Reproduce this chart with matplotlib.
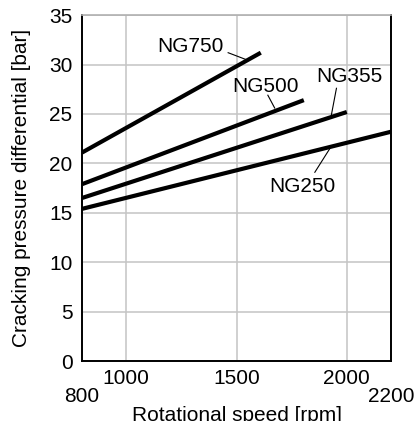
import numpy as np
import matplotlib.pyplot as plt

plt.rcParams['font.family'] = ['Liberation Sans', 'DejaVu Sans']

# speed [rpm] and cracking pressure [bar] at line ends
sizes = ['NG750', 'NG500', 'NG355', 'NG250']
speed_start = [800, 800, 800, 800]
speed_end = [1610, 1805, 2000, 2200]
p_start = [21.1, 17.9, 16.5, 15.4]
p_end = [31.2, 26.4, 25.2, 23.2]

# label text position and leader line (from, to) in data coordinates
label_xy = [(1290, 31.8), (1630, 27.8), (2010, 28.8), (1800, 17.7)]
leader_from = [(1462, 31.2), (1642, 26.9), (1953, 27.6), (1855, 19.1)]
leader_to = [(1544, 30.5), (1673, 25.6), (1930, 24.9), (1923, 21.5)]

xticks = [800, 1000, 1500, 2000, 2200]
yticks = [0, 5, 10, 15, 20, 25, 30, 35]

FS = 15


def main():
    fig = plt.figure(figsize=(4.19, 4.21), dpi=100)
    ax = fig.add_axes([0.196, 0.1425, 0.737, 0.8215])

    for i in range(len(sizes)):
        ax.plot([speed_start[i], speed_end[i]], [p_start[i], p_end[i]],
                color='black', lw=3, solid_capstyle='butt', zorder=3)
        ax.plot([leader_from[i][0], leader_to[i][0]],
                [leader_from[i][1], leader_to[i][1]],
                color='black', lw=0.8, zorder=3)
        ax.text(label_xy[i][0], label_xy[i][1], sizes[i], fontsize=FS,
                ha='center', va='center')

    ax.set_xlim(800, 2200)
    ax.set_ylim(0, 35)
    ax.set_xticks(xticks)
    ax.set_yticks(yticks)
    ax.tick_params(length=0, labelsize=FS)
    ax.tick_params(axis='y', pad=7)
    for tick, val in zip(ax.xaxis.get_major_ticks(), xticks):
        tick.set_pad(19 if val in (800, 2200) else 6)
    ax.grid(True, color='#c4c4c4', lw=1.1)
    ax.set_axisbelow(True)

    for side in ['left', 'bottom', 'right']:
        ax.spines[side].set_color('black')
        ax.spines[side].set_linewidth(1.4)
    ax.spines['top'].set_color('#b0b0b0')
    ax.spines['top'].set_linewidth(1.2)

    ax.set_xlabel('Rotational speed [rpm]', fontsize=FS, labelpad=0)
    ax.set_ylabel('Cracking pressure differential [bar]', fontsize=FS,
                  labelpad=13)

    fig.savefig('out.png', dpi=100)


if __name__ == "__main__":
    main()
